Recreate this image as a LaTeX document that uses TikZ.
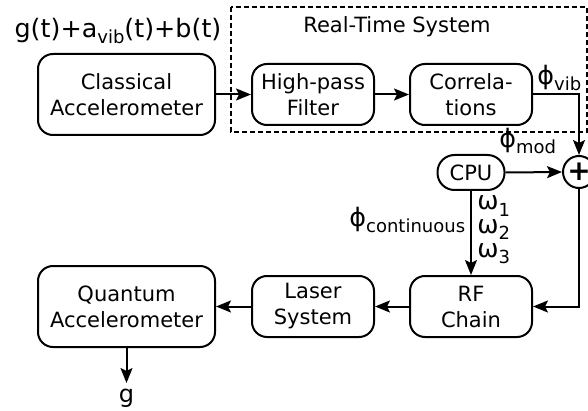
\documentclass[tikz,border=0pt]{standalone}
\usepackage{fontspec}
\setmainfont{DejaVu Sans}
\usepackage{tikz}
\usetikzlibrary{arrows.meta, positioning, calc}
\newcommand{\lowidx}[1]{\raisebox{-3pt}{\fontsize{9}{9}\selectfont #1}}

\begin{document}
\begin{tikzpicture}[
    x=0.5pt, y=-0.5pt,
    font=\fontsize{10.5}{13}\selectfont,
    block/.style={rectangle, rounded corners=7.5pt, draw, line width=1pt, minimum width=61pt, minimum height=30.5pt, align=center, inner sep=1pt},
    bigblock/.style={block, minimum width=88.5pt, minimum height=40.5pt},
    cpubox/.style={rectangle, rounded corners=8.5pt, draw, line width=1pt, minimum width=33.5pt, minimum height=17.5pt, inner sep=1pt},
    sumnode/.style={circle, draw, line width=1pt, minimum size=16pt, inner sep=0pt, font=\fontsize{14}{14}\selectfont\bfseries},
    siglabel/.style={inner sep=0pt, font=\fontsize{12.7}{12.7}\selectfont},
    sigarrow/.style={-{Stealth[length=7.5pt,width=6pt,inset=1.5pt]}, line width=1pt},
    rtsframe/.style={line width=1pt, dash pattern=on 2.5pt off 1.5pt},
  ]
  \useasboundingbox (0,0) rectangle (588,411);

  % real-time part
  \draw[rtsframe] (231,7) rectangle (587,132);
  \node (rtstitle) at (397,27) {Real-Time System};

  \node[bigblock] (classical) at (126.5,94.5) {Classical\\Accelerometer};
  \node[block, right=17.5pt of classical] (hpf) {High-pass\\Filter};
  \node[block, right=17pt of hpf] (corr) {Correla-\\tions};
  \node[siglabel, anchor=base] (input) at (118,38) {g(t)+a\lowidx{vib}(t)+b(t)};

  % control and laser chain
  \node[cpubox, below=14pt of corr] (cpu) {CPU};
  \node[sumnode] (plus) at (579,172) {+};
  \node[block, below=42pt of cpu] (rf) {RF\\Chain};
  \node[block, left=17pt of rf] (laser) {Laser\\System};
  \node[bigblock, left=17.5pt of laser] (quantum) {Quantum\\Accelerometer};
  \node[siglabel, font=\fontsize{12}{12}\selectfont, below=17.5pt of quantum, inner sep=3pt] (gout) {g};

  \node[siglabel, anchor=base west] (phivib) at (537,85) {ϕ\lowidx{vib}};
  \node[siglabel, anchor=base west] (phimod) at (499,148) {ϕ\lowidx{mod}};
  \node[siglabel, anchor=base west] (phicont) at (349,227) {ϕ\lowidx{continuous}};
  \node[siglabel, anchor=base west] (omega1) at (477,210) {ω\lowidx{1}};
  \node[siglabel, anchor=base west] (omega2) at (477,234) {ω\lowidx{2}};
  \node[siglabel, anchor=base west] (omega3) at (477,257) {ω\lowidx{3}};

  \draw[sigarrow] (classical.east) -- (hpf.west);
  \draw[sigarrow] (hpf.east) -- (corr.west);
  \draw[sigarrow] (corr.east) -| (plus.north);
  \draw[sigarrow] (cpu.east) -- (plus.west);
  \draw[sigarrow] (cpu.south) -- (rf.north);
  \draw[sigarrow] (plus.south) |- (rf.east);
  \draw[sigarrow] (rf.west) -- (laser.east);
  \draw[sigarrow] (laser.west) -- (quantum.east);
  \draw[sigarrow] (quantum.south) -- (gout.north);
\end{tikzpicture}
\end{document}
